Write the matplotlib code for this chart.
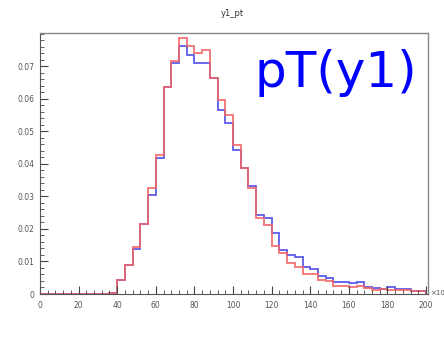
import numpy as np
import matplotlib
matplotlib.use("Agg")
import matplotlib.pyplot as plt
from matplotlib.ticker import MultipleLocator, FixedLocator

bin_edges = list(range(0, 204, 4))

blue_vals = [0, 0, 0, 0, 0, 0, 0, 0, 0, 0.0003,
             0.0043, 0.0090, 0.0138, 0.0214, 0.0305, 0.0418, 0.0635, 0.0710, 0.0763, 0.0735,
             0.0710, 0.0710, 0.0664, 0.0566, 0.0526, 0.0443, 0.0388, 0.0333, 0.0243, 0.0234,
             0.0188, 0.0135, 0.0120, 0.0114, 0.0083, 0.0077, 0.0055, 0.0049, 0.0038, 0.0038,
             0.0033, 0.0038, 0.0022, 0.0018, 0.0015, 0.0020, 0.0015, 0.0014, 0.0009, 0.0008]

red_vals = [0, 0, 0, 0, 0, 0, 0, 0, 0, 0.0003,
            0.0043, 0.0090, 0.0143, 0.0214, 0.0325, 0.0428, 0.0635, 0.0717, 0.0787, 0.0763,
            0.0740, 0.0750, 0.0664, 0.0597, 0.0550, 0.0458, 0.0388, 0.0326, 0.0234, 0.0212,
            0.0148, 0.0127, 0.0095, 0.0084, 0.0062, 0.0062, 0.0043, 0.0040, 0.0025, 0.0025,
            0.0022, 0.0025, 0.0018, 0.0013, 0.0015, 0.0011, 0.0011, 0.0012, 0.0008, 0.0008]

x_ticks = [0, 20, 40, 60, 80, 100, 120, 140, 160, 180, 200]
y_ticks = [0, 0.01, 0.02, 0.03, 0.04, 0.05, 0.06, 0.07]
y_tick_labels = ["0", "0.01", "0.02", "0.03", "0.04", "0.05", "0.06", "0.07"]
x_tick_labels = [str(v) for v in x_ticks]

fig = plt.figure(figsize=(4.44, 3.37), dpi=100)
ax = fig.add_axes([40/444, 1-294/337, (428-40)/444, (294-33)/337])

ax.stairs(blue_vals, bin_edges, color=(0.25, 0.25, 0.9), lw=1.3, alpha=0.85)
ax.stairs(red_vals, bin_edges, color=(0.95, 0.4, 0.4), lw=1.4, alpha=0.85)

ax.set_xlim(0, 201)
ax.set_ylim(0, 0.0802)

ax.xaxis.set_major_locator(FixedLocator(x_ticks))
ax.xaxis.set_minor_locator(MultipleLocator(4))
ax.yaxis.set_major_locator(FixedLocator(y_ticks))
ax.yaxis.set_minor_locator(MultipleLocator(0.002))
ax.set_xticklabels(x_tick_labels)
ax.set_yticklabels(y_tick_labels)

ax.tick_params(which='both', direction='in', colors='#444', labelcolor='#555',
               labelsize=5.5, top=False, right=False)
ax.tick_params(which='major', length=6, width=0.8)
ax.tick_params(axis='x', which='major', pad=5)
ax.tick_params(axis='y', which='major', pad=4)
ax.tick_params(which='minor', length=3, width=0.6)

for side in ['left', 'bottom']:
    ax.spines[side].set_color('#555')
    ax.spines[side].set_linewidth(0.8)
for side in ['top', 'right']:
    ax.spines[side].set_color('#888')
    ax.spines[side].set_linewidth(1.0)

fig.text(232/444, 1-13/337, "y1_pt", ha='center', va='center', fontsize=6, color='#333')
fig.text(430/444, 1-293/337, "×10", ha='left', va='center', fontsize=5, color='#555')

fig.text(254/444, 1-87/337, "pT(y1)", ha='left', va='baseline', fontsize=36,
         color='#0000ff', family='DejaVu Sans')

fig.savefig("out.png", dpi=100, facecolor='white')
